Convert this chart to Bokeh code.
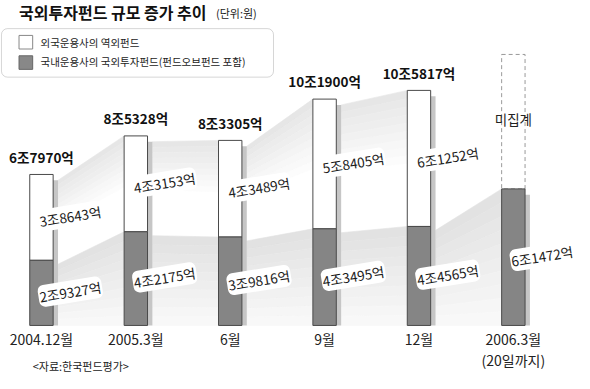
from bokeh.plotting import figure
from bokeh.models import Range1d, Label, BoxAnnotation
from bokeh.core.properties import value
from bokeh.embed import file_html
from bokeh.resources import INLINE

# ---------------- data (억원) ----------------
periods = ["2004.12월", "2005.3월", "6월", "9월", "12월", "2006.3월"]
period_notes = ["", "", "", "", "", "(20일까지)"]
foreign = [38643, 43153, 43489, 58405, 61252]          # 외국운용사의 역외펀드
domestic = [29327, 42175, 39816, 43495, 44565, 61472]  # 국내운용사의 국외투자펀드
unreported_label = "미집계"
unreported_box_top = 122000   # height of the dashed (not yet counted) box

title = "국외투자펀드 규모 증가 추이"
unit = "(단위:원)"
legend_labels = ["외국운용사의 역외펀드", "국내운용사의 국외투자펀드(펀드오브펀드 포함)"]
source_note = "<자료:한국펀드평가>"

totals = [f + d for f, d in zip(foreign, domestic)]


def fmt(v):
    return f"{v // 10000}조{v % 10000:04d}억"


# ---------------- geometry ----------------
W, H = 574, 373
KX, KY = 0.975, 0.97           # reference px -> frame px


def fx(X):
    return (X - 3) * KX


def fy(Y):
    return (Y - 4) * KY


SX = 96.8 * KX                 # px per category step
SY = 22.9 * KY / 10000         # px per 억
x0 = -fx(45) / SX
y1 = fy(339) / SY
y0 = y1 - H / SY


def dx(px):
    return px * KX / SX


def dy(px):
    return px * KY / SY


def XI(X):
    return x0 + fx(X) / SX


def YI(Y):
    return y1 - fy(Y) / SY


FONT = value("Noto Sans CJK KR")

p = figure(width=W, height=H, x_range=Range1d(x0, x0 + W / SX), y_range=Range1d(y0, y1),
           output_backend="svg", toolbar_location=None, min_border=0,
           x_axis_location=None, y_axis_location=None)
p.grid.visible = False
p.outline_line_color = None
p.background_fill_color = "white"

n = len(domestic)
xs = list(range(n))
BW = dx(24)

# ---------------- connecting ribbons ----------------
rx, ry, rc = [], [], []


def grad(c0, c1, t):
    v = int(round(c0 + (c1 - c0) * t))
    return "#%02x%02x%02x" % (v, v, v)


N = 10
for i in range(n - 1):
    xl = i + BW / 2 + dx(5)
    xr = (i + 1) - BW / 2
    if i + 1 < len(totals):
        tl, tr = totals[i] - dy(6), totals[i + 1]
        bl, br = domestic[i], domestic[i + 1]
        for k in range(N):
            f0, f1 = k / N * 0.6, (k + 1) / N * 0.6
            rx.append([xl, xr, xr, xl])
            ry.append([tl - (tl - bl) * f0, tr - (tr - br) * f0,
                       tr - (tr - br) * f1, tl - (tl - bl) * f1])
            rc.append(grad(0xe6, 0xff, k / (N - 1)))
    tl, tr = domestic[i] - dy(4), domestic[i + 1]
    for k in range(N):
        f0, f1 = k / N, (k + 1) / N
        rx.append([xl, xr, xr, xl])
        ry.append([tl * (1 - f0), tr * (1 - f0), tr * (1 - f1), tl * (1 - f1)])
        rc.append(grad(0xe2, 0xf8, k / (N - 1)))

p.patches(rx, ry, fill_color=rc, line_color=rc, line_width=0.6)

# ---------------- shadows ----------------
sh_top = totals + [domestic[-1]]
p.quad(left=[x - BW / 2 + dx(5) for x in xs], right=[x + BW / 2 + dx(5) for x in xs],
       top=[t - dy(6) for t in sh_top], bottom=[0] * n,
       fill_color="#c6c6c6", line_color=None)

# ---------------- bars ----------------
p.vbar(x=[n - 1], width=BW, bottom=[domestic[-1]], top=[unreported_box_top],
       fill_color="white", line_color="#9a9a9a", line_width=1, line_dash="4 3")
p.vbar(x=xs[:len(foreign)], width=BW, bottom=domestic[:len(foreign)], top=totals,
       fill_color="white", line_color="#4a4a4a", line_width=1)
p.vbar(x=xs, width=BW, bottom=0, top=domestic,
       fill_color="#858585", line_color="#4a4a4a", line_width=1)

# ---------------- segment labels ----------------
seg_x, seg_y, seg_t = [], [], []
for i, (f, d) in enumerate(zip(foreign, domestic)):
    seg_x.append(i - BW / 2 + dx(9))
    seg_y.append(d + f / 2 - dy(4))
    seg_t.append(fmt(f))
for i, d in enumerate(domestic):
    seg_x.append(i - BW / 2 + dx(9))
    seg_y.append(d / 2 - dy(4))
    seg_t.append(fmt(d))
p.text(x=seg_x, y=seg_y, text=seg_t, angle=0.16, text_align="left", text_baseline="middle",
       text_font=FONT, text_font_size="13.5px", text_color="#1a1a1a",
       background_fill_color="white", border_radius=6, padding=1)

# totals
p.text(x=xs[:len(totals)], y=[t + dy(8) for t in totals], text=[fmt(t) for t in totals],
       text_align="center", text_baseline="bottom", text_font=FONT,
       text_font_size="13.5px", text_font_style="bold", text_color="#111")
p.text(x=[n - 1], y=[unreported_box_top - dy(67)], text=[unreported_label],
       text_align="center", text_baseline="middle", text_font=FONT,
       text_font_size="13.5px", text_color="#222")

# category labels
p.text(x=xs, y=[YI(353)] * n, text=periods, text_align="center", text_baseline="middle",
       text_font=FONT, text_font_size="14px", text_color="#222")
p.text(x=[i for i in xs if period_notes[i]], y=[YI(375)],
       text=[t for t in period_notes if t], text_align="center", text_baseline="middle",
       text_font=FONT, text_font_size="14px", text_color="#222")

# ---------------- title / legend / source ----------------
p.add_layout(Label(x=XI(22), y=YI(16), text=title, text_baseline="middle",
                   text_font="Noto Sans CJK KR", text_font_size="16px",
                   text_font_style="bold", text_color="#111"))
p.add_layout(Label(x=XI(224), y=YI(17), text=unit, text_baseline="middle",
                   text_font="Noto Sans CJK KR", text_font_size="11px", text_color="#222"))

p.add_layout(BoxAnnotation(left=XI(4), right=XI(283), top=YI(33), bottom=YI(83),
                           fill_color="white", fill_alpha=1, line_color="#777",
                           line_width=1, border_radius=6, level="underlay"))
p.quad(left=[XI(22), XI(22)], right=[XI(36), XI(36)], top=[YI(40), YI(61)],
       bottom=[YI(54), YI(75)], fill_color=["white", "#888888"],
       line_color=["#888888", "#666666"], line_width=1)
for lbl, yy in zip(legend_labels, [47, 67]):
    p.add_layout(Label(x=XI(44), y=YI(yy), text=lbl, text_baseline="middle",
                       text_font="Noto Sans CJK KR", text_font_size="10.5px",
                       text_color="#222"))

p.add_layout(Label(x=XI(36), y=YI(381), text=source_note, text_baseline="middle",
                   text_font="Noto Sans CJK KR", text_font_size="11px", text_color="#222"))

open("out.html", "w").write(file_html(p, INLINE))
